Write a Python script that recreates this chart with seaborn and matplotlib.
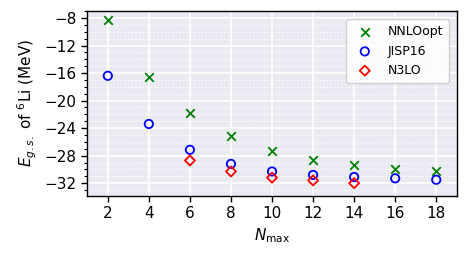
import numpy as np
import pandas as pd
import matplotlib
matplotlib.use("Agg")
import matplotlib.pyplot as plt
import seaborn as sns
from matplotlib.ticker import MultipleLocator

nmax_nnlo = [2, 4, 6, 8, 10, 12, 14, 16, 18]
e_nnlo = [-8.3, -16.6, -21.8, -25.1, -27.35, -28.7, -29.3, -29.9, -30.25]
nmax_jisp = [2, 4, 6, 8, 10, 12, 14, 16, 18]
e_jisp = [-16.4, -23.4, -27.15, -29.2, -30.3, -30.8, -31.1, -31.3, -31.5]
nmax_n3lo = [6, 8, 10, 12, 14]
e_n3lo = [-28.7, -30.3, -31.2, -31.6, -32.0]
xticks = [2, 4, 6, 8, 10, 12, 14, 16, 18]
yticks = [-8, -12, -16, -20, -24, -28, -32]

sns.set_style("darkgrid")
plt.rcParams['font.family'] = ['DejaVu Sans']

fig = plt.figure(figsize=(4.68, 2.58), dpi=100)
ax = fig.add_axes([0.1865, 0.242, 0.7895, 0.715])

sns.scatterplot(x=nmax_nnlo, y=e_nnlo, ax=ax, marker='x', color='green',
                s=38, linewidth=1.3, label='NNLOopt', zorder=3)
sns.scatterplot(x=nmax_jisp, y=e_jisp, ax=ax, marker='o', facecolors='none',
                edgecolor='blue', s=36, linewidth=1.3, label='JISP16', zorder=3)
sns.scatterplot(x=nmax_n3lo, y=e_n3lo, ax=ax, marker='D', facecolors='none',
                edgecolor='red', s=26, linewidth=1.3, label='N3LO', zorder=3)

ax.set_xlim(1, 19)
ax.set_ylim(-33.8, -7)
ax.set_xticks(xticks)
ax.set_yticks(yticks)
ax.set_xticklabels([str(v) for v in xticks])
ax.set_yticklabels(['\u2212%d' % (-v) for v in yticks])
ax.yaxis.set_minor_locator(MultipleLocator(1))

ax.grid(which='major', color='white', linewidth=1.2, linestyle='-')
ax.grid(which='minor', axis='y', color='white', linewidth=1.0, linestyle=':')
ax.set_axisbelow(True)

for sp in ax.spines.values():
    sp.set_visible(True)
    sp.set_color('black')
    sp.set_linewidth(1.0)

ax.tick_params(axis='both', which='major', direction='out', length=4, width=1,
               color='black', labelcolor='black', labelsize=11,
               bottom=True, left=True)
ax.tick_params(axis='y', which='minor', direction='out', length=2, width=0.8,
               color='black', left=True)

ax.set_xlabel(r'$N_{\mathrm{max}}$', fontsize=11, color='black')
ax.set_ylabel(r'$E_{g.s.}$ of $^{6}$Li (MeV)', fontsize=11, color='black')

leg = ax.legend(loc='upper right', fontsize=9, frameon=True, framealpha=0.9,
                edgecolor='#cccccc', borderpad=0.5, handletextpad=0.8,
                bbox_to_anchor=(0.996, 0.99))
leg.get_frame().set_facecolor('white')
for t in leg.get_texts():
    t.set_color('black')

fig.savefig('out.png', dpi=100)
